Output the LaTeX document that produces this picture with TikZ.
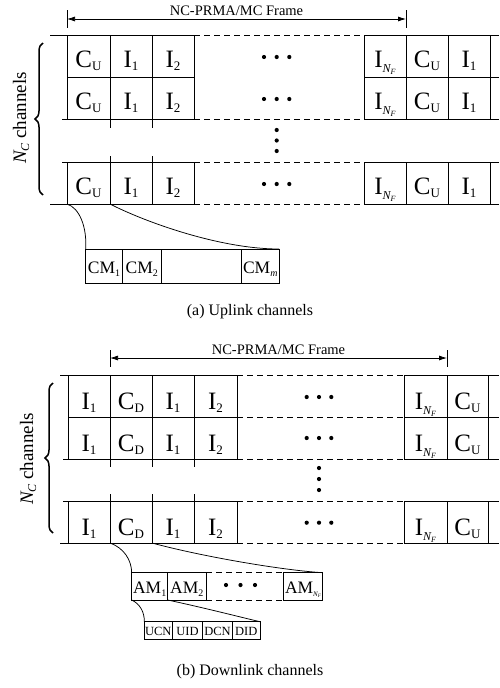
\documentclass[tikz,border=0pt]{standalone}
\usepackage{fontspec}
\setmainfont{Liberation Serif}
\usetikzlibrary{arrows.meta,decorations.pathreplacing}
\newcommand{\cellt}[2]{{\fontsize{25}{25}\selectfont #1}\raisebox{-3pt}{\fontsize{13}{13}\selectfont #2}}
\newcommand{\cellnf}{{\fontsize{25}{25}\selectfont I}\raisebox{-5pt}{\fontsize{12}{12}\selectfont\itshape N\raisebox{-2pt}{\fontsize{8}{8}\selectfont F}}}
\newcommand{\smt}[2]{{\fontsize{17.5}{17.5}\selectfont #1}\raisebox{-3pt}{\fontsize{10}{10}\selectfont #2}}
\newcommand{\amnf}{{\fontsize{17.5}{17.5}\selectfont AM}\raisebox{-3pt}{\fontsize{7}{7}\selectfont\itshape N\raisebox{-1pt}{\fontsize{5}{5}\selectfont F}}}
\newcommand{\nclab}{{\itshape N}\raisebox{-3pt}{\fontsize{12}{12}\selectfont\itshape C} channels}
\begin{document}
\begin{tikzpicture}[x=1pt,y=-1pt,
  grid/.style={line width=0.75pt},
  dashline/.style={line width=0.75pt, dash pattern=on 6pt off 4pt},
  lbl/.style={anchor=base, inner sep=0pt},
  conn/.style={line width=0.75pt},
  dimarrow/.style={line width=0.75pt, {Latex[length=8pt,width=5pt]}-{Latex[length=8pt,width=5pt]}},
  bracestyle/.style={line width=1.5pt, decorate, decoration={brace, amplitude=8pt}},
  frametext/.style={font=\fontsize{14.5}{14.5}\selectfont},
  captext/.style={font=\fontsize{16}{16}\selectfont, inner sep=0pt},
  tinylbl/.style={lbl, font=\fontsize{12.5}{12.5}\selectfont}]
\useasboundingbox (0,0) rectangle (499,688);

% ================= UPLINK =================
\coordinate (ual) at (67,19); \coordinate (uar) at (406,19);
\draw[grid] (67,10) -- (67,28);
\draw[grid] (406,10) -- (406,28);
\draw[dimarrow] (ual) -- (uar);
\node[lbl, frametext] (uft) at (236.5,15.5) {NC-PRMA/MC Frame};

\foreach \y/\s in {35/50,119/62,162/62,204/50} {
  \draw[grid] (\s,\y) -- (194,\y);
  \draw[dashline] (194,\y) -- (364,\y);
  \draw[grid] (364,\y) -- (499,\y);
}
\draw[grid] (67,77) -- (194,77);
\draw[grid] (364,77) -- (499,77);
\foreach \x in {67,194,364,406,448,490} {
  \draw[grid] (\x,35) -- (\x,119);
  \draw[grid] (\x,162) -- (\x,204);
}
\foreach \x in {110,152} {
  \draw[grid] (\x,35) -- (\x,128);
  \draw[grid] (\x,156) -- (\x,204);
}
\foreach \r/\b in {1/67,2/109,3/194} {
  \node[lbl] (uc\r) at (88.5,\b) {\cellt{C}{U}};
  \node[lbl] (ui\r) at (131,\b) {\cellt{I}{1}};
  \node[lbl] (uj\r) at (173,\b) {\cellt{I}{2}};
  \node[lbl] (un\r) at (385,\b) {\cellnf};
  \node[lbl] (ucr\r) at (427,\b) {\cellt{C}{U}};
  \node[lbl] (uir\r) at (469,\b) {\cellt{I}{1}};
}
\foreach \y in {57,99,184} \foreach \x in {264,276.7,289.3} \fill (\x,\y) circle (2.1);
\foreach \y in {130,140.5,151} \fill (276.7,\y) circle (2.1);

\draw[bracestyle] (43,195) -- (43,43);
\node[rotate=90, font=\fontsize{19}{19}\selectfont, inner sep=0pt] (unc) at (21,118) {\nclab};

% CM box
\draw[grid] (85.7,249) rectangle (279,283.3);
\foreach \x in {122.3,161,241.7} \draw[grid] (\x,249) -- (\x,283.3);
\node[lbl] (cm1) at (104,273.3) {\smt{CM}{1}};
\node[lbl] (cm2) at (141.7,273.3) {\smt{CM}{2}};
\node[lbl] (cmm) at (260.3,273.3) {\smt{CM}{\itshape m}};
\coordinate (uca) at (67,204); \coordinate (ucb) at (110,204);
\coordinate (cma) at (85.7,249); \coordinate (cmb) at (279,249);
\draw[conn] (uca) .. controls (80,208) and (87,228) .. (cma);
\draw[conn] (ucb) .. controls (145,222) and (220,249) .. (cmb);
\node[captext] (capa) at (250,312) {(a) Uplink channels};

% ================= DOWNLINK =================
\coordinate (dal) at (110,358); \coordinate (dar) at (447,358);
\draw[grid] (110,350) -- (110,367);
\draw[grid] (447,350) -- (447,367);
\draw[dimarrow] (dal) -- (dar);
\node[lbl, frametext] (dft) at (278.5,354.5) {NC-PRMA/MC Frame};

\foreach \y/\s in {375/60,417/68,459/63,501/63,543/60} {
  \draw[grid] (\s,\y) -- (237,\y);
  \draw[dashline] (237,\y) -- (404,\y);
  \draw[grid] (404,\y) -- (499,\y);
}
\foreach \x in {68,237,404,447,488} {
  \draw[grid] (\x,375) -- (\x,459);
  \draw[grid] (\x,501) -- (\x,543);
}
\foreach \x in {110,152,194} {
  \draw[grid] (\x,375) -- (\x,467);
  \draw[grid] (\x,494) -- (\x,543);
}
\foreach \r/\b in {1/409,2/451,3/535} {
  \node[lbl] (da\r) at (89,\b) {\cellt{I}{1}};
  \node[lbl] (db\r) at (131,\b) {\cellt{C}{D}};
  \node[lbl] (dc\r) at (173,\b) {\cellt{I}{1}};
  \node[lbl] (dd\r) at (215.5,\b) {\cellt{I}{2}};
  \node[lbl] (de\r) at (425.5,\b) {\cellnf};
  \node[lbl] (df\r) at (467.5,\b) {\cellt{C}{U}};
}
\foreach \y in {397,438,522.7} \foreach \x in {306.7,319,331.3} \fill (\x,\y) circle (2.1);
\foreach \y in {468,479,490} \fill (319,\y) circle (2.1);

\draw[bracestyle] (53,533) -- (53,383);
\node[rotate=90, font=\fontsize{19}{19}\selectfont, inner sep=0pt] (dnc) at (28,459) {\nclab};

% AM box
\draw[grid] (206,572.7) -- (131.7,572.7) -- (131.7,600) -- (206,600) -- cycle;
\draw[grid] (167.7,572.7) -- (167.7,600);
\draw[dashline] (206,572.7) -- (283.3,572.7);
\draw[dashline] (206,600) -- (283.3,600);
\draw[grid] (283.3,572.7) rectangle (322.7,600);
\node[lbl] (am1) at (149.7,593.3) {\smt{AM}{1}};
\node[lbl] (am2) at (186.8,593.3) {\smt{AM}{2}};
\node[lbl] (amn) at (303,593.3) {\amnf};
\foreach \x in {226,240.5,255} \fill (\x,585) circle (2.1);
\coordinate (dca) at (110,543); \coordinate (dcb) at (152,543);
\coordinate (ama) at (131.7,572.7); \coordinate (amb) at (322.7,572.7);
\draw[conn] (dca) .. controls (124,548) and (131.5,560) .. (ama);
\draw[conn] (dcb) .. controls (200,556) and (280,570) .. (amb);

% UCN box
\draw[grid] (144.3,621.7) rectangle (260,639.3);
\foreach \x in {172.3,202.7,232.3} \draw[grid] (\x,621.7) -- (\x,639.3);
\node[tinylbl] (ucn) at (158.3,635) {UCN};
\node[tinylbl] (uid) at (187.5,635) {UID};
\node[tinylbl] (dcn) at (217.5,635) {DCN};
\node[tinylbl] (did) at (246.2,635) {DID};
\coordinate (amc) at (131.7,600); \coordinate (amd) at (167.7,600);
\coordinate (una) at (144.3,621.7); \coordinate (unb) at (260,621.7);
\draw[conn] (amc) .. controls (140,604) and (144.5,612) .. (una);
\draw[conn] (amd) .. controls (205,608) and (240,617) .. (unb);
\node[captext] (capb) at (250,672) {(b) Downlink channels};
\end{tikzpicture}
\end{document}
